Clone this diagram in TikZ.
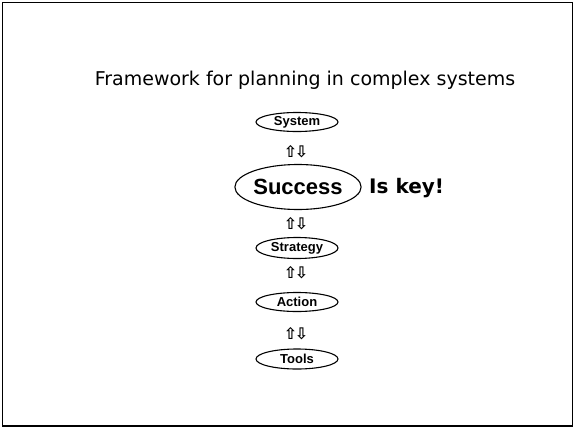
\documentclass[tikz,border=0pt]{standalone}
\usepackage{fontspec}
\setmainfont{DejaVu Sans}
\newfontfamily\boxfont{Liberation Sans}
\usetikzlibrary{shapes.geometric, positioning}

\begin{document}
\begin{tikzpicture}[
  x=1pt, y=-1pt,
  lvl/.style={draw, ellipse, line width=1.1pt, inner sep=0pt, minimum width=82pt, minimum height=#1, font=\boxfont\fontsize{13}{13}\selectfont\bfseries},
  lvl/.default=19pt,
  updown/.style={inner sep=0pt, font=\fontsize{16}{16}\selectfont\bfseries},
]
  \useasboundingbox (0,0) rectangle (574,429);
  \draw[line width=1.4pt] (2.5,2.5) rectangle (572.5,426);

  \node[anchor=base, inner sep=0pt, font=\fontsize{19}{19}\selectfont] (title) at (305,85) {Framework for planning in complex systems};

  % levels, top to bottom
  \node[lvl] (system) at (297,122) {System};
  \node[lvl=45pt, minimum width=106pt, font=\boxfont\fontsize{22}{22}\selectfont\bfseries] (success) at (298,187) {Success};
  \node[lvl=21pt] (strategy) at (297,248) {Strategy};
  \node[lvl] (action) at (297,302) {Action};
  \node[lvl=20pt] (tools) at (297,359) {Tools};

  \node[anchor=west, inner sep=0pt, font=\fontsize{20}{20}\selectfont\bfseries] (key) at (369,188) {Is key!};

  % two-way links
  \node[updown] (ud1) at (296,152) {⇧\kern-2.5pt⇩};
  \node[updown] (ud2) at (296,224) {⇧\kern-2.5pt⇩};
  \node[updown] (ud3) at (296,273) {⇧\kern-2.5pt⇩};
  \node[updown] (ud4) at (296,334) {⇧\kern-2.5pt⇩};
\end{tikzpicture}
\end{document}
